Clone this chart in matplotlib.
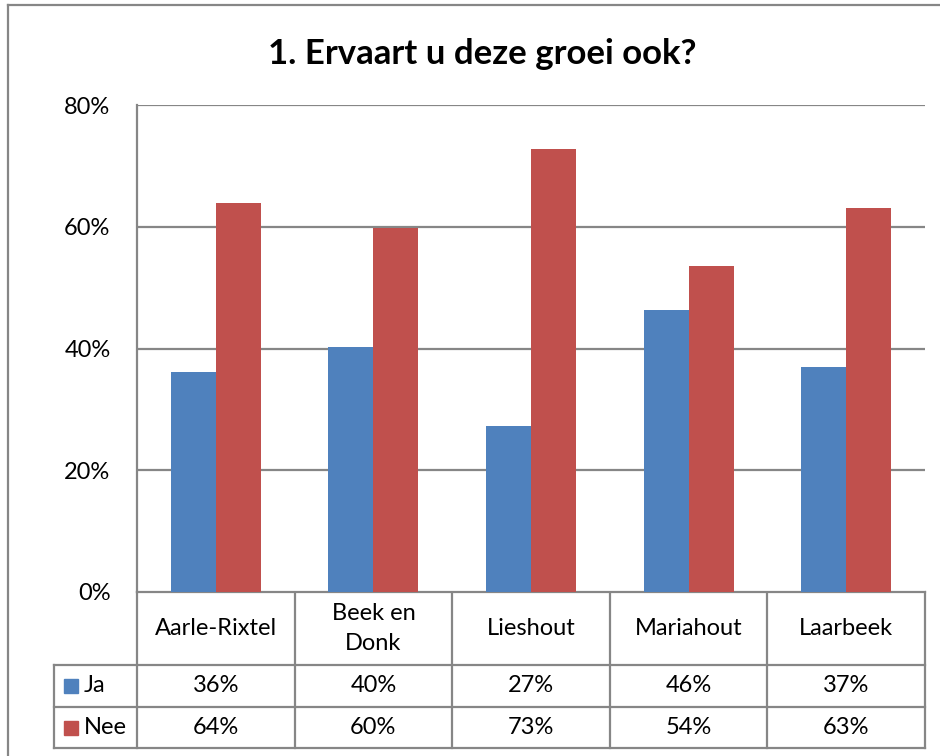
import matplotlib.pyplot as plt
import numpy as np

# chart data
categories = ['Aarle-Rixtel', 'Beek en\nDonk', 'Lieshout', 'Mariahout', 'Laarbeek']
series_names = ['Ja', 'Nee']
ja_values = [36.1, 40.2, 27.3, 46.3, 36.9]
nee_values = [63.9, 59.8, 72.7, 53.6, 63.1]
ja_labels = ['36%', '40%', '27%', '46%', '37%']
nee_labels = ['64%', '60%', '73%', '54%', '63%']
yticks = [0, 20, 40, 60, 80]

blue = '#4f81bd'
red = '#c0504d'
grid_col = '#868686'

plt.rcParams['font.family'] = ['Lato', 'DejaVu Sans']

W, H = 940, 756
fig = plt.figure(figsize=(9.4, 7.56), dpi=100)

# layout in pixels
px_left, px_right = 137, 925
px_top, px_bottom = 105, 592
row_ja, row_nee, row_end = 665, 707, 748
leg_left = 54
fs = 17

# overlay in pixel coordinates for the frame and the data table
ov = fig.add_axes([0, 0, 1, 1])
ov.set_xlim(0, W)
ov.set_ylim(H, 0)
ov.axis('off')

# main bar axes
ax = fig.add_axes([px_left / W, 1 - px_bottom / H,
                   (px_right - px_left) / W, (px_bottom - px_top) / H])
x = np.arange(len(categories))
bw = 0.285
ax.bar(x - bw / 2, ja_values, bw, color=blue, edgecolor='none', zorder=3)
ax.bar(x + bw / 2, nee_values, bw, color=red, edgecolor='none', zorder=3)
ax.set_xlim(-0.5, len(categories) - 0.5)
ax.set_ylim(0, 80)
ax.set_yticks(yticks)
ax.set_yticklabels([f'{v}%' for v in yticks], fontsize=fs)
ax.tick_params(axis='y', length=0, pad=19)
ax.set_xticks([])
ax.yaxis.grid(True, color=grid_col, linewidth=1.6, zorder=0)
for s in ['top', 'right', 'bottom']:
    ax.spines[s].set_visible(False)
ax.spines['left'].set_color(grid_col)
ax.spines['left'].set_linewidth(1.6)

ov.text(482, 54, '1. Ervaart u deze groei ook?',
        fontsize=25, fontweight='bold', ha='center', va='center')

# outer chart frame (left and top edges)
ov.plot([8, 8], [5, H], color=grid_col, lw=1.6)
ov.plot([8, W], [5, 5], color=grid_col, lw=1.6)

# data table
cw = (px_right - px_left) / len(categories)
lc = grid_col
lw = 1.6
ov.plot([px_left, px_right], [px_bottom, px_bottom], color=lc, lw=lw)
ov.plot([leg_left, px_right], [row_ja, row_ja], color=lc, lw=lw)
ov.plot([leg_left, px_right], [row_nee, row_nee], color=lc, lw=lw)
ov.plot([leg_left, px_right], [row_end, row_end], color=lc, lw=lw)
ov.plot([leg_left, leg_left], [row_ja, row_end], color=lc, lw=lw)
for i in range(len(categories) + 1):
    xx = px_left + i * cw
    ov.plot([xx, xx], [px_bottom, row_end], color=lc, lw=lw)

for i, cat in enumerate(categories):
    cx = px_left + (i + 0.5) * cw
    ov.text(cx, (px_bottom + row_ja) / 2, cat, ha='center', va='center',
            fontsize=fs, linespacing=1.55)
    ov.text(cx, (row_ja + row_nee) / 2, ja_labels[i], ha='center',
            va='center', fontsize=fs)
    ov.text(cx, (row_nee + row_end) / 2, nee_labels[i], ha='center',
            va='center', fontsize=fs)

for name, color, (y0, y1) in zip(series_names, [blue, red],
                                 [(row_ja, row_nee), (row_nee, row_end)]):
    yc = (y0 + y1) / 2
    ov.add_patch(plt.Rectangle((64, yc - 7), 14, 14, color=color))
    ov.text(84, yc, name, ha='left', va='center', fontsize=fs)

fig.savefig('out.png', dpi=100)
